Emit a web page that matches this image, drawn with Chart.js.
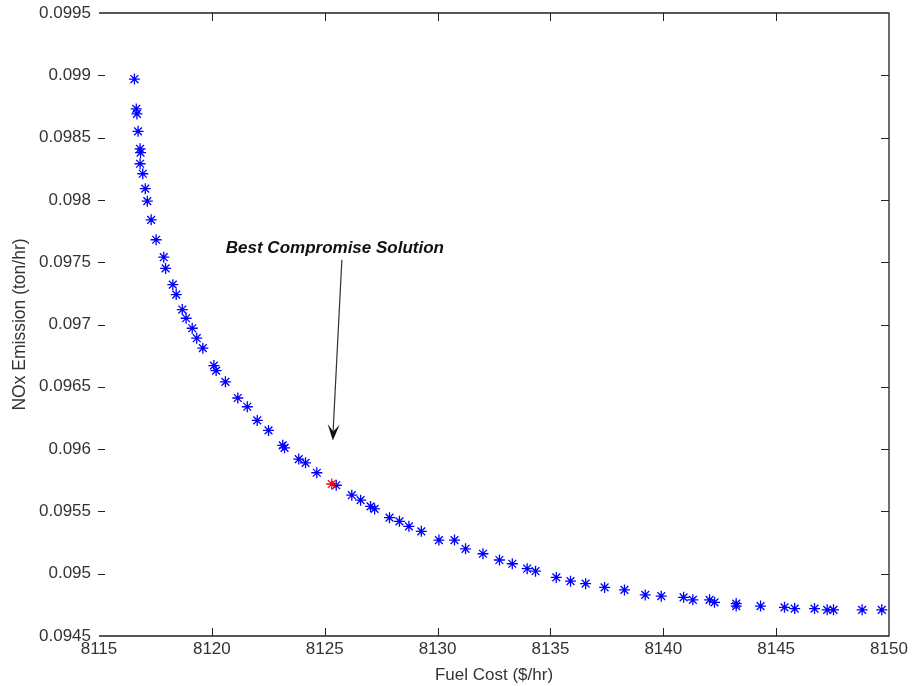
<!DOCTYPE html>
<html><head><meta charset="utf-8">
<script src="https://cdn.jsdelivr.net/npm/chart.js@4"></script>
<style>html,body{margin:0;padding:0;background:#fff}</style>
</head><body>
<canvas id="c" width="914" height="686"></canvas>
<script>
const fuelCost = [8116.57,8116.65,8116.68,8116.73,8116.82,8116.84,8116.82,8116.94,8117.05,8117.14,8117.31,8117.53,8117.87,8117.95,8118.27,8118.42,8118.69,8118.86,8119.13,8119.33,8119.60,8120.09,8120.19,8120.60,8121.15,8121.57,8122.01,8122.51,8123.14,8123.22,8123.85,8124.15,8124.65,8125.51,8126.20,8126.59,8127.03,8127.21,8127.87,8128.31,8128.73,8129.28,8130.06,8130.75,8131.24,8132.01,8132.74,8133.31,8133.97,8134.34,8135.26,8135.89,8136.56,8137.40,8138.28,8139.20,8139.91,8140.90,8141.31,8142.05,8142.27,8143.23,8143.23,8144.31,8145.37,8145.82,8146.70,8147.26,8147.54,8148.81,8149.68];
const noxEmission = [0.09897,0.09873,0.09869,0.09855,0.09841,0.09838,0.09829,0.09821,0.09809,0.09799,0.09784,0.09768,0.09754,0.09745,0.09732,0.09724,0.09712,0.09705,0.09697,0.09689,0.09681,0.09667,0.09663,0.09654,0.09641,0.09634,0.09623,0.09615,0.09603,0.09601,0.09592,0.09589,0.09581,0.09571,0.09563,0.09559,0.09554,0.09552,0.09545,0.09542,0.09538,0.09534,0.09527,0.09527,0.09520,0.09516,0.09511,0.09508,0.09504,0.09502,0.09497,0.09494,0.09492,0.09489,0.09487,0.09483,0.09482,0.09481,0.09479,0.09479,0.09477,0.09476,0.09474,0.09474,0.09473,0.09472,0.09472,0.09471,0.09471,0.09471,0.09471];
const bestCost = [8125.31];
const bestNox = [0.09572];
const annotationText = "Best Compromise Solution";
const annotationAt = [8125.45, 0.09761];
const arrowFrom = [8125.76, 0.09752];
const arrowTo = [8125.36, 0.09607];
const xTitle = "Fuel Cost ($/hr)";
const yTitle = "NOx Emission (ton/hr)";
const xMin = 8115, xMax = 8150, xStep = 5;
const yMin = 0.0945, yMax = 0.0995, yStep = 0.0005;

const toPts = (xs, ys) => xs.map((x, i) => ({x, y: ys[i]}));
const FONT = "'Liberation Sans', Arial, Helvetica, sans-serif";

const framePlugin = {
  id: 'frame',
  afterDatasetsDraw(chart) {
    const {ctx, chartArea: a, scales: {x, y}} = chart;
    ctx.save();
    ctx.strokeStyle = '#222';
    ctx.lineWidth = 1.3;
    ctx.beginPath();
    ctx.moveTo(a.left, a.top); ctx.lineTo(a.right, a.top);
    ctx.lineTo(a.right, a.bottom); ctx.lineTo(a.left, a.bottom);
    ctx.stroke();
    const L = 8;
    ctx.beginPath();
    x.ticks.forEach(t => {
      const px = Math.round(x.getPixelForValue(t.value)) + 0.5;
      if (px <= a.left + 1 || px >= a.right - 1) return;
      ctx.moveTo(px, a.bottom); ctx.lineTo(px, a.bottom - L);
      ctx.moveTo(px, a.top); ctx.lineTo(px, a.top + L);
    });
    y.ticks.forEach(t => {
      const py = Math.round(y.getPixelForValue(t.value)) + 0.5;
      if (py <= a.top + 1 || py >= a.bottom - 1) return;
      ctx.moveTo(a.left - 1, py); ctx.lineTo(a.left + L - 2, py);
      ctx.moveTo(a.right, py); ctx.lineTo(a.right - L, py);
    });
    ctx.lineWidth = 1;
    ctx.stroke();

    // annotation text
    ctx.fillStyle = '#111';
    ctx.font = 'italic bold 17px ' + FONT;
    ctx.textAlign = 'center';
    ctx.textBaseline = 'middle';
    ctx.fillText(annotationText, x.getPixelForValue(annotationAt[0]), y.getPixelForValue(annotationAt[1]));
    // arrow
    const x1 = x.getPixelForValue(arrowFrom[0]), y1 = y.getPixelForValue(arrowFrom[1]);
    const x2 = x.getPixelForValue(arrowTo[0]), y2 = y.getPixelForValue(arrowTo[1]);
    ctx.strokeStyle = '#333';
    ctx.lineWidth = 1.2;
    ctx.beginPath(); ctx.moveTo(x1, y1); ctx.lineTo(x2, y2 - 4); ctx.stroke();
    const ang = Math.atan2(y2 - y1, x2 - x1);
    const hl = 16, hw = 6;
    const bx = x2 - hl * Math.cos(ang), by = y2 - hl * Math.sin(ang);
    const nx = -Math.sin(ang), ny = Math.cos(ang);
    const mx = x2 - 0.55 * hl * Math.cos(ang), my = y2 - 0.55 * hl * Math.sin(ang);
    ctx.fillStyle = '#111';
    ctx.beginPath();
    ctx.moveTo(x2, y2);
    ctx.lineTo(bx + nx * hw, by + ny * hw);
    ctx.lineTo(mx, my);
    ctx.lineTo(bx - nx * hw, by - ny * hw);
    ctx.closePath();
    ctx.fill();
    ctx.restore();
  }
};

new Chart(document.getElementById('c'), {
  type: 'scatter',
  data: {
    datasets: [
      {
        label: 'Best compromise',
        data: toPts(bestCost, bestNox),
        pointStyle: 'star',
        radius: 5.5,
        borderColor: '#ff0000',
        backgroundColor: '#ff0000',
        borderWidth: 1.3
      },
      {
        label: 'Pareto front',
        data: toPts(fuelCost, noxEmission),
        pointStyle: 'star',
        radius: 5.5,
        borderColor: '#0000ff',
        backgroundColor: '#0000ff',
        borderWidth: 1.3
      }
    ]
  },
  options: {
    responsive: false,
    animation: false,
    events: [],
    layout: {padding: {top: 13, right: 25, left: 0, bottom: 0}},
    plugins: {legend: {display: false}, tooltip: {enabled: false}},
    scales: {
      x: {
        type: 'linear', min: xMin, max: xMax,
        grid: {display: false, drawTicks: false},
        border: {display: false},
        ticks: {stepSize: xStep, padding: 3, color: '#333', font: {family: FONT, size: 17}, maxRotation: 0,
                callback: v => String(v)},
        title: {display: true, text: xTitle, color: '#333', font: {family: FONT, size: 17}, padding: {top: 1, bottom: 0}},
        afterFit: s => { s.height = 50; s.paddingLeft = 0; s.paddingRight = 0; }
      },
      y: {
        type: 'linear', min: yMin, max: yMax,
        grid: {display: false, drawTicks: false},
        border: {display: false},
        ticks: {stepSize: yStep, padding: 8, color: '#333', font: {family: FONT, size: 17},
                callback: v => String(parseFloat(Number(v).toFixed(4)))},
        title: {display: true, text: yTitle, color: '#333', font: {family: FONT, size: 17.5}, padding: {top: 10, bottom: 0}},
        afterFit: s => { s.width = 99; s.paddingTop = 0; s.paddingBottom = 0; }
      }
    }
  },
  plugins: [framePlugin]
});
</script>
</body></html>
